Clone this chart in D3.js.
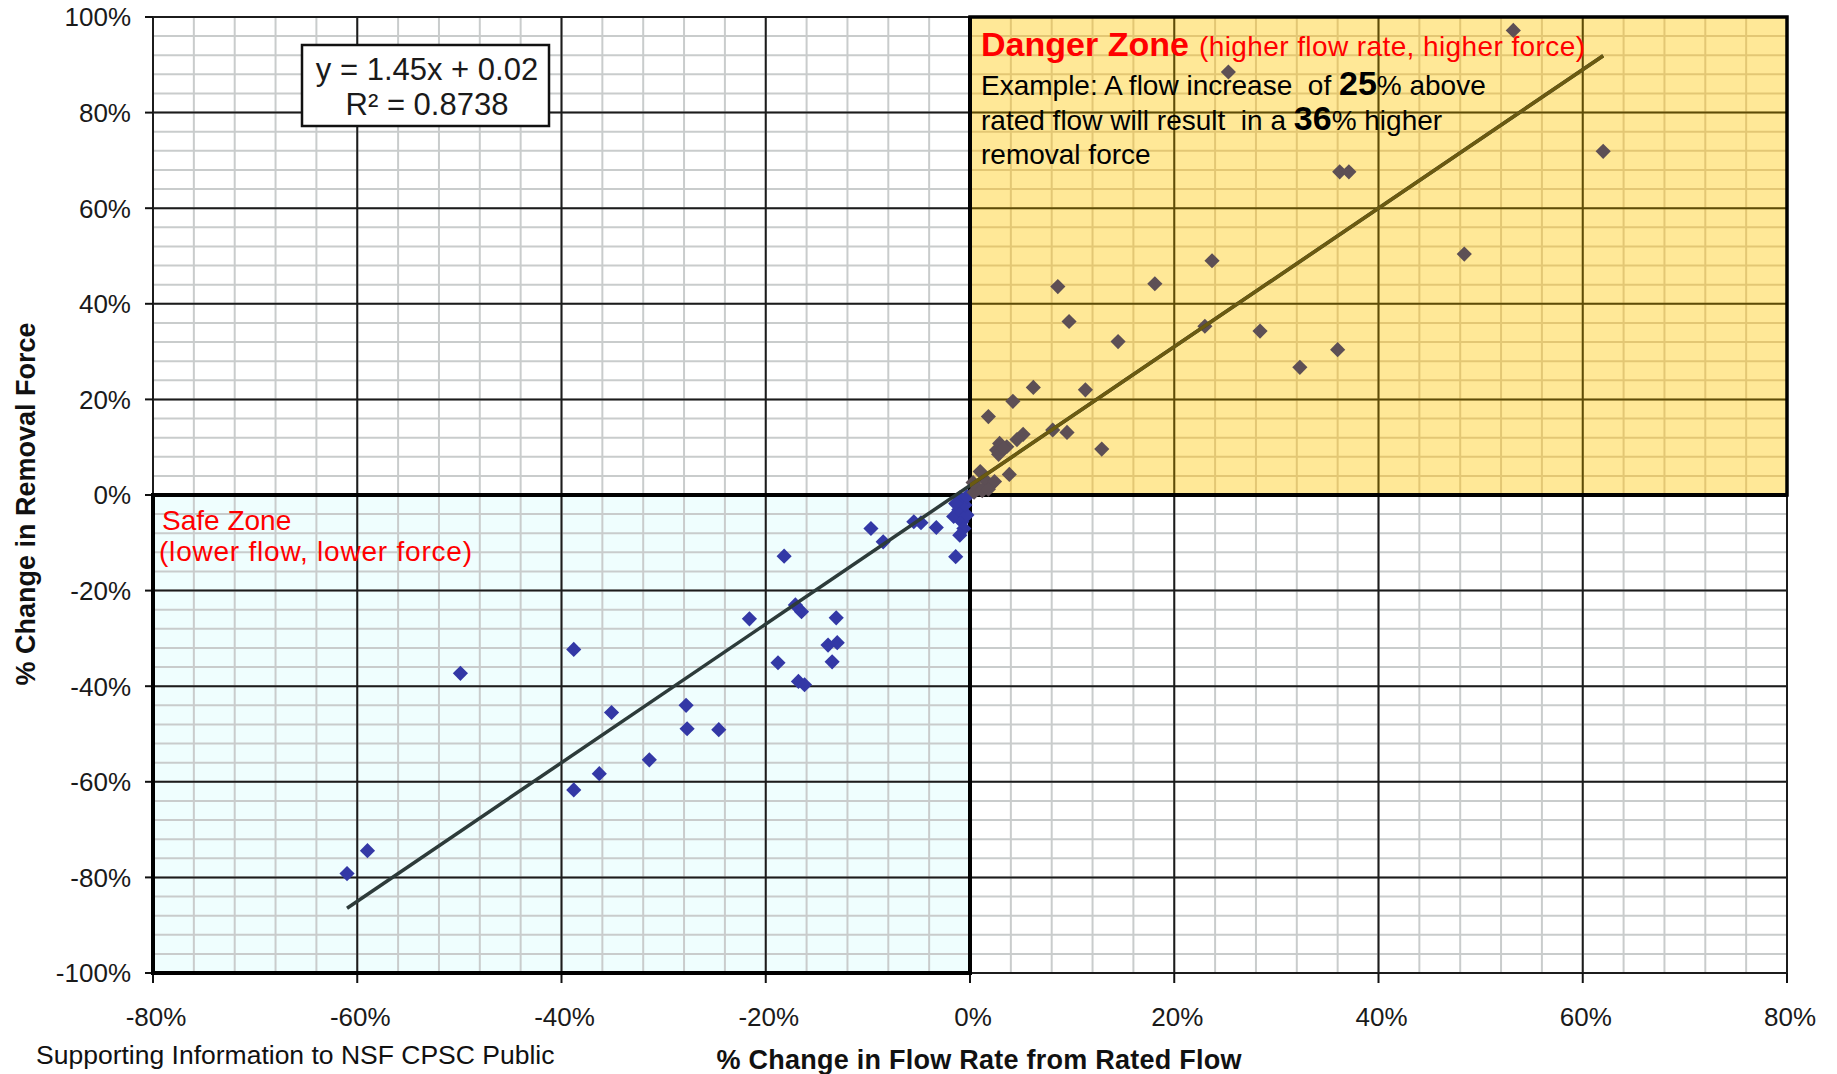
<!DOCTYPE html>
<html lang="en">
<head>
<meta charset="utf-8">
<title>Flow rate vs removal force</title>
<script src="https://d3js.org/d3.v7.min.js"></script>
<style>
body {
  margin: 0;
  background-color: #ffffff;
  font-family: "Liberation Sans", Arial, sans-serif;
}
.tick-label { font-size: 26px; fill: #1a1a1a; }
.zone-note { font-size: 28px; fill: #ff0000; }
.example { font-size: 28px; fill: #000; }
.axis-title { font-size: 27px; font-weight: bold; fill: #111; }
</style>
</head>
<body>
<svg width="1837" height="1074"></svg>
<script>

// % change in flow rate from rated flow (x) and % change in removal force (y)
var flowPct = [
  -61.0, -59.0, -49.9, -38.8, -38.8, -36.3, -35.1, -31.4, -27.8, -27.7,
  -24.6, -21.6, -18.2, -18.8, -17.1, -16.5, -16.8, -16.2, -13.1, -13.9,
  -13.0, -13.5, -9.7, -8.5, -5.5, -4.8, -3.3, -1.4, -1.6, -1.1,
  -0.8, -0.6, -1.0, -0.3, -0.5, -1.0, -0.3, -1.4,
  53.2, 25.3, 62.0, 36.2, 37.1, 48.4, 23.7, 8.6, 18.1, 9.7,
  14.5, 23.0, 28.4, 36.0, 32.3, 6.2, 11.3, 4.2, 1.8, 8.1,
  9.5, 12.9, 5.2, 4.6, 2.9, 3.6, 2.6, 2.8, 3.3, 3.85,
  1.0, 2.0, 0.8, 1.5, 2.4, 0.4, 1.2, 0.3, 1.8
];
var forcePct = [
  -79.2, -74.4, -37.3, -32.3, -61.7, -58.3, -45.5, -55.4, -44.0, -48.9,
  -49.1, -25.9, -12.8, -35.1, -23.0, -24.4, -39.0, -39.7, -25.7, -31.4,
  -30.9, -34.9, -7.0, -9.8, -5.6, -5.8, -6.8, -12.9, -4.5, -3.1,
  -5.6, -7.0, -8.4, -4.2, -2.1, -0.6, -0.3, -1.8,
  97.2, 88.5, 71.9, 67.6, 67.6, 50.4, 49.0, 43.6, 44.2, 36.3,
  32.1, 35.3, 34.3, 30.4, 26.7, 22.5, 22.0, 19.6, 16.4, 13.6,
  13.1, 9.6, 12.7, 11.6, 10.8, 10.1, 9.4, 8.5, 9.7, 4.3,
  4.9, 2.1, 1.4, 3.1, 2.8, 0.6, 0.9, 2.6, 1.2
];

// linear trendline reported on the chart
var trendSlope = 1.45, trendIntercept = 2;   // in % units
var trendLabel = ["y = 1.45x + 0.02", "R\u00b2 = 0.8738"];

var xTicks = [-80, -60, -40, -20, 0, 20, 40, 60, 80];
var yTicks = [-100, -80, -60, -40, -20, 0, 20, 40, 60, 80, 100];

var svg = d3.select("svg");

var x = d3.scaleLinear().domain([-80, 80]).range([153, 1787]);
var y = d3.scaleLinear().domain([-100, 100]).range([973, 17]);

var minorX = d3.range(-80, 81, 4),
    minorY = d3.range(-100, 101, 4);

function drawGrid(g, minorColor, majorColor) {
  g.selectAll(".vminor").data(minorX).enter().append("line")
      .attr("x1", d => x(d)).attr("x2", d => x(d))
      .attr("y1", y(100)).attr("y2", y(-100))
      .style("stroke", minorColor).style("stroke-width", 2);
  g.selectAll(".hminor").data(minorY).enter().append("line")
      .attr("y1", d => y(d)).attr("y2", d => y(d))
      .attr("x1", x(-80)).attr("x2", x(80))
      .style("stroke", minorColor).style("stroke-width", 2);
  g.selectAll(".vmajor").data(xTicks).enter().append("line")
      .attr("x1", d => x(d)).attr("x2", d => x(d))
      .attr("y1", y(100)).attr("y2", y(-100))
      .style("stroke", majorColor).style("stroke-width", 2);
  g.selectAll(".hmajor").data(yTicks).enter().append("line")
      .attr("y1", d => y(d)).attr("y2", d => y(d))
      .attr("x1", x(-80)).attr("x2", x(80))
      .style("stroke", majorColor).style("stroke-width", 2);
}

var defs = svg.append("defs");
defs.append("clipPath").attr("id", "danger-clip")
  .append("rect")
    .attr("x", x(0)).attr("y", y(100))
    .attr("width", x(80) - x(0)).attr("height", y(0) - y(100));

// safe zone background
svg.append("rect")
    .attr("x", x(-80)).attr("y", y(0))
    .attr("width", x(0) - x(-80)).attr("height", y(-100) - y(0))
    .style("fill", "#effefe");

drawGrid(svg.append("g"), "#c9cccc", "#1c1c1c");

// danger zone: yellow with tinted grid
var danger = svg.append("g").attr("clip-path", "url(#danger-clip)");
danger.append("rect")
    .attr("x", x(0)).attr("y", y(100))
    .attr("width", x(80) - x(0)).attr("height", y(0) - y(100))
    .style("fill", "#ffe897");
drawGrid(danger, "#e3c774", "#5e4c08");

// axis ticks
svg.selectAll(".ytick").data(yTicks).enter().append("line")
    .attr("x1", x(-80) - 8).attr("x2", x(-80))
    .attr("y1", d => y(d)).attr("y2", d => y(d))
    .style("stroke", "#111").style("stroke-width", 2);
svg.selectAll(".xtick").data(xTicks).enter().append("line")
    .attr("x1", d => x(d)).attr("x2", d => x(d))
    .attr("y1", y(-100)).attr("y2", y(-100) + 10)
    .style("stroke", "#111").style("stroke-width", 2);

// zone borders
svg.append("rect")
    .attr("x", x(0)).attr("y", y(100))
    .attr("width", x(80) - x(0)).attr("height", y(0) - y(100))
    .style("fill", "none").style("stroke", "#000").style("stroke-width", 3.5);
svg.append("rect")
    .attr("x", x(-80)).attr("y", y(0))
    .attr("width", x(0) - x(-80)).attr("height", y(-100) - y(0))
    .style("fill", "none").style("stroke", "#000").style("stroke-width", 4);
svg.append("line")
    .attr("x1", x(-80)).attr("x2", x(80)).attr("y1", y(0)).attr("y2", y(0))
    .style("stroke", "#000").style("stroke-width", 4);
svg.append("line")
    .attr("x1", x(0)).attr("x2", x(0)).attr("y1", y(100)).attr("y2", y(-100))
    .style("stroke", "#000").style("stroke-width", 4);

// points
var points = flowPct.map((f, i) => ({flow: f, force: forcePct[i]}));
var diamond = d3.symbol().type(d3.symbolSquare).size(115);

svg.append("g").selectAll("path")
  .data(points)
  .enter().append("path")
    .attr("d", diamond)
    .attr("transform", d => "translate(" + x(d.flow) + "," + y(d.force) + ") rotate(45)")
    .style("fill", d => (d.flow > 0 && d.force > 0) ? "#5d4f55" : "#3338a6");

// trendline across the data extent
var xExt = d3.extent(flowPct);
var trend = xExt.map(v => [x(v), y(trendSlope * v + trendIntercept)]);
var line = d3.line();
svg.append("path")
    .attr("d", line(trend))
    .style("fill", "none").style("stroke", "#2d3b3a").style("stroke-width", 3.5);
svg.append("path")
    .attr("clip-path", "url(#danger-clip)")
    .attr("d", line(trend))
    .style("fill", "none").style("stroke", "#6b5a10").style("stroke-width", 3.5);

// tick labels
svg.selectAll(".ylab").data(yTicks).enter().append("text")
    .attr("class", "tick-label")
    .attr("x", 131).attr("y", d => y(d)).attr("dy", "0.36em")
    .style("text-anchor", "end")
    .text(d => d + "%");
svg.selectAll(".xlab").data(xTicks).enter().append("text")
    .attr("class", "tick-label")
    .attr("x", d => x(d) + 3).attr("y", 1026)
    .style("text-anchor", "middle")
    .text(d => d + "%");

// axis titles
svg.append("text")
    .attr("class", "axis-title")
    .attr("transform", "translate(35,504) rotate(-90)")
    .style("text-anchor", "middle")
    .attr("textLength", 363)
    .text("% Change in Removal Force");
svg.append("text")
    .attr("class", "axis-title")
    .attr("x", 979).attr("y", 1069)
    .style("text-anchor", "middle")
    .attr("textLength", 525)
    .text("% Change in Flow Rate from Rated Flow");
svg.append("text")
    .attr("x", 36).attr("y", 1064)
    .style("font-size", "26.5px").style("fill", "#111")
    .text("Supporting Information to NSF CPSC Public");

// trendline equation box
var eq = svg.append("g");
eq.append("rect")
    .attr("x", 302).attr("y", 45).attr("width", 247).attr("height", 81)
    .style("fill", "#fff").style("stroke", "#111").style("stroke-width", 2.5);
eq.selectAll("text").data(trendLabel).enter().append("text")
    .attr("x", 427).attr("y", (d, i) => 80 + i * 35)
    .style("text-anchor", "middle").style("font-size", "31px").style("fill", "#1a1a1a")
    .text(d => d);

// zone annotations
svg.append("text")
    .attr("x", 981).attr("y", 56)
    .style("font-size", "34px").style("font-weight", "bold").style("fill", "#ff0000")
    .attr("textLength", 208)
    .text("Danger Zone");
svg.append("text")
    .attr("class", "zone-note")
    .attr("x", 1199).attr("y", 56)
    .attr("textLength", 386)
    .text("(higher flow rate, higher force)");

var example = [
  ["Example: A flow increase  of ", "25", "% above"],
  ["rated flow will result  in a ", "36", "% higher"],
  ["removal force", "", ""]
];
example.forEach(function(row, i) {
  var t = svg.append("text")
      .attr("class", "example")
      .attr("x", 981).attr("y", 95 + i * 34.5)
      .attr("xml:space", "preserve");
  t.append("tspan").text(row[0]);
  t.append("tspan").style("font-weight", "bold").style("font-size", "34px").text(row[1]);
  t.append("tspan").text(row[2]);
});

svg.append("text")
    .attr("class", "zone-note")
    .attr("x", 162).attr("y", 530)
    .text("Safe Zone");
svg.append("text")
    .attr("class", "zone-note")
    .attr("x", 159).attr("y", 561)
    .attr("textLength", 313)
    .text("(lower flow, lower force)");

</script>
</body>
</html>
